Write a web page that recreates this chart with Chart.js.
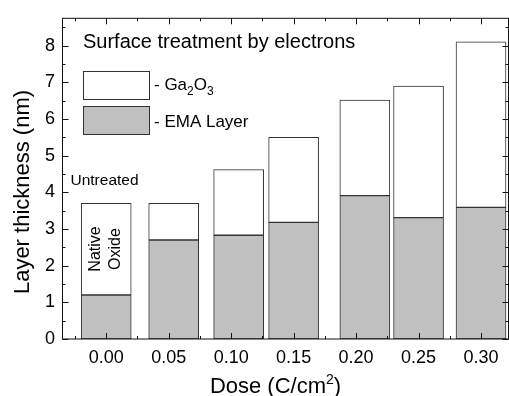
<!DOCTYPE html>
<html>
<head>
<meta charset="utf-8">
<script src="https://cdn.jsdelivr.net/npm/chart.js@4/dist/chart.umd.min.js"></script>
<style>
  html, body { margin: 0; padding: 0; background: #fff; }
  #wrap { width: 509px; height: 396px; position: relative; }
  canvas { display: block; }
</style>
</head>
<body>
<div id="wrap"><canvas id="c" width="509" height="396"></canvas></div>
<script>
// ---- data ----
const doses = [0.0, 0.054, 0.106, 0.15, 0.207, 0.25, 0.30];      // bar centres (C/cm^2)
const emaLayer = [1.2, 2.7, 2.83, 3.18, 3.91, 3.31, 3.59];       // nm
const ga2o3Layer = [2.5, 1.0, 1.79, 2.32, 2.61, 3.59, 4.52];     // nm, stacked on top
const xTickValues = [0.0, 0.05, 0.10, 0.15, 0.20, 0.25, 0.30];
const xTickLabels = ['0.00', '0.05', '0.10', '0.15', '0.20', '0.25', '0.30'];
const yTickValues = [0, 1, 2, 3, 4, 5, 6, 7, 8];
const yTickLabels = ['0', '1', '2', '3', '4', '5', '6', '7', '8'];

const FONT = "'Liberation Sans', Arial, sans-serif";
const GRAY = '#c0c0c0';
const EDGE = '#333333';

const decor = {
  id: 'decor',
  afterDraw(chart) {
    const ctx = chart.ctx;
    const a = chart.chartArea;
    const xs = chart.scales.x, ys = chart.scales.y;
    ctx.save();
    // frame
    ctx.strokeStyle = '#111';
    ctx.lineWidth = 1;
    ctx.strokeRect(a.left, a.top, a.right - a.left, a.bottom - a.top);
    // inward ticks
    ctx.beginPath();
    const xMin = xs.min, xMax = xs.max;
    for (let v = -0.025; v <= xMax + 1e-9; v += 0.025) {
      if (v < xMin) continue;
      const major = Math.abs(Math.round(v / 0.05) * 0.05 - v) < 1e-6;
      const len = major ? 6 : 3;
      const px = Math.round(xs.getPixelForValue(v)) + 0.5;
      ctx.moveTo(px, a.bottom); ctx.lineTo(px, a.bottom - len);
      ctx.moveTo(px, a.top); ctx.lineTo(px, a.top + len);
    }
    for (let v = 0; v <= ys.max + 1e-9; v += 0.5) {
      const major = Math.abs(Math.round(v) - v) < 1e-6;
      const len = major ? 6 : 3;
      const py = Math.round(ys.getPixelForValue(v)) + 0.5;
      ctx.moveTo(a.left, py); ctx.lineTo(a.left + len, py);
      ctx.moveTo(a.right, py); ctx.lineTo(a.right - len, py);
    }
    ctx.stroke();

    ctx.fillStyle = '#000';
    ctx.textBaseline = 'alphabetic';
    // title inside plot
    ctx.font = '20px ' + FONT;
    ctx.textAlign = 'left';
    ctx.fillText('Surface treatment by electrons', 83, 48);

    // legend boxes
    ctx.strokeStyle = EDGE;
    ctx.fillStyle = '#fff';
    ctx.fillRect(83.5, 71.5, 66, 28);
    ctx.strokeRect(83.5, 71.5, 66, 28);
    ctx.fillStyle = GRAY;
    ctx.fillRect(83.5, 106.5, 66, 28);
    ctx.strokeRect(83.5, 106.5, 66, 28);

    ctx.fillStyle = '#000';
    ctx.font = '17px ' + FONT;
    let x0 = 154;
    const base1 = 90;
    const t1 = '- Ga';
    ctx.fillText(t1, x0, base1); x0 += ctx.measureText(t1).width;
    ctx.font = '12px ' + FONT;
    ctx.fillText('2', x0, base1 + 5); x0 += ctx.measureText('2').width;
    ctx.font = '17px ' + FONT;
    ctx.fillText('O', x0, base1); x0 += ctx.measureText('O').width;
    ctx.font = '12px ' + FONT;
    ctx.fillText('3', x0, base1 + 5);
    ctx.font = '17px ' + FONT;
    ctx.fillText('- EMA Layer', 154, 126.5);

    // annotations
    ctx.font = '15.5px ' + FONT;
    ctx.fillText('Untreated', 70.5, 185);
    ctx.save();
    ctx.font = '16px ' + FONT;
    ctx.textAlign = 'center';
    ctx.translate(99.5, 249); ctx.rotate(-Math.PI / 2);
    ctx.fillText('Native', 0, 0);
    ctx.restore();
    ctx.save();
    ctx.font = '16px ' + FONT;
    ctx.textAlign = 'center';
    ctx.translate(120, 249); ctx.rotate(-Math.PI / 2);
    ctx.fillText('Oxide', 0, 0);
    ctx.restore();

    // axis titles
    ctx.save();
    ctx.font = '22px ' + FONT;
    ctx.textAlign = 'center';
    ctx.translate(29, 192); ctx.rotate(-Math.PI / 2);
    ctx.fillText('Layer thickness (nm)', 0, 0);
    ctx.restore();

    ctx.font = '22px ' + FONT;
    const p1 = 'Dose (C/cm', p3 = ')';
    const w1 = ctx.measureText(p1).width, w3 = ctx.measureText(p3).width;
    ctx.font = '14px ' + FONT;
    const w2 = ctx.measureText('2').width;
    let xt = 275.5 - (w1 + w2 + w3) / 2;
    const bt = 392.5;
    ctx.textAlign = 'left';
    ctx.font = '22px ' + FONT;
    ctx.fillText(p1, xt, bt); xt += w1;
    ctx.font = '14px ' + FONT;
    ctx.fillText('2', xt, bt - 9); xt += w2;
    ctx.font = '22px ' + FONT;
    ctx.fillText(p3, xt, bt);
    ctx.restore();
  }
};

new Chart(document.getElementById('c'), {
  type: 'bar',
  data: {
    datasets: [
      {
        label: 'EMA Layer',
        data: doses.map((d, i) => ({ x: d, y: emaLayer[i] })),
        backgroundColor: GRAY,
        borderColor: EDGE,
        borderWidth: 1,
        borderSkipped: false,
        barThickness: 50,
        stack: 's'
      },
      {
        label: 'Ga2O3',
        data: doses.map((d, i) => ({ x: d, y: ga2o3Layer[i] })),
        backgroundColor: '#ffffff',
        borderColor: EDGE,
        borderWidth: 1,
        borderSkipped: false,
        barThickness: 50,
        stack: 's'
      }
    ]
  },
  options: {
    responsive: false,
    animation: false,
    devicePixelRatio: 1,
    layout: { padding: { top: 9, right: 0.5, left: 0, bottom: 0 } },
    plugins: { legend: { display: false }, tooltip: { enabled: false }, title: { display: false } },
    scales: {
      x: {
        type: 'linear',
        stacked: true,
        offset: false,
        min: -0.035,
        max: 0.322,
        grid: { display: false, drawTicks: false, tickLength: 0 },
        border: { display: false },
        afterFit(s) { s.height = 57; },
        afterBuildTicks(s) { s.ticks = xTickValues.map(v => ({ value: v })); },
        ticks: {
          padding: 8,
          autoSkip: false,
          maxRotation: 0,
          color: '#000',
          font: { family: FONT, size: 18 },
          callback: (v, i) => xTickLabels[i]
        }
      },
      y: {
        stacked: true,
        min: 0,
        max: 8.75,
        grid: { display: false, drawTicks: false, tickLength: 0 },
        border: { display: false },
        afterFit(s) { s.width = 62.5; },
        afterBuildTicks(s) { s.ticks = yTickValues.map(v => ({ value: v })); },
        ticks: {
          padding: 7.5,
          autoSkip: false,
          color: '#000',
          font: { family: FONT, size: 18 },
          callback: (v, i) => yTickLabels[i]
        }
      }
    }
  },
  plugins: [decor]
});
</script>
</body>
</html>
